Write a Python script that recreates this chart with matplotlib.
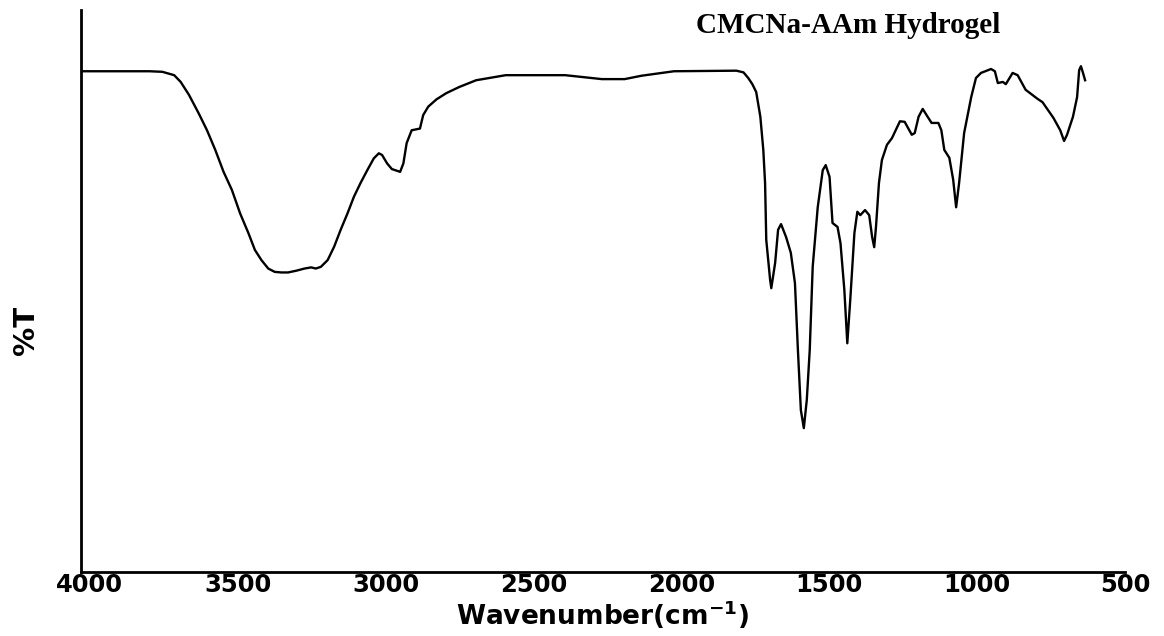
import numpy as np
import matplotlib
matplotlib.use("Agg")
import matplotlib.pyplot as plt

# FTIR spectrum of the hydrogel (wavenumber in cm-1, transmittance in %)
wavenumber = [4027, 3799, 3755, 3715, 3693, 3665, 3632, 3604, 3576, 3548,
              3520, 3492, 3464, 3442, 3420, 3397, 3375, 3353, 3330, 3303,
              3274, 3252, 3236, 3219, 3196, 3174, 3152, 3129, 3107, 3085,
              3062, 3040, 3023, 3012, 2995, 2979, 2951, 2940, 2929, 2912,
              2884, 2873, 2856, 2828, 2795, 2751, 2694, 2594, 2393, 2269,
              2192, 2135, 2025, 1814, 1790, 1774, 1760, 1747, 1733, 1723,
              1717, 1713, 1700, 1696, 1683, 1673, 1663, 1646, 1630, 1616,
              1606, 1596, 1586, 1576, 1566, 1556, 1539, 1522, 1512, 1499,
              1489, 1472, 1462, 1449, 1439, 1429, 1415, 1405, 1395, 1379,
              1365, 1355, 1348, 1342, 1332, 1322, 1305, 1288, 1261, 1245,
              1221, 1211, 1198, 1184, 1171, 1154, 1131, 1121, 1111, 1094,
              1081, 1071, 1061, 1044, 1020, 1004, 987, 953, 940, 930,
              913, 903, 880, 863, 836, 796, 779, 742, 719, 706,
              696, 676, 662, 655, 649, 642, 635]
transmittance = [89.1, 89.1, 89.0, 88.4, 87.2, 84.9, 81.6, 78.6, 75.1, 71.2,
                 68.0, 63.8, 60.3, 57.3, 55.5, 54.0, 53.4, 53.3, 53.3, 53.6,
                 54.0, 54.2, 54.0, 54.3, 55.5, 57.9, 60.9, 63.8, 66.8, 69.2,
                 71.5, 73.6, 74.5, 74.2, 72.7, 71.7, 71.2, 72.7, 76.3, 78.6,
                 78.9, 81.3, 82.8, 84.1, 85.2, 86.3, 87.5, 88.4, 88.4, 87.7,
                 87.7, 88.3, 89.1, 89.2, 88.9, 87.9, 86.8, 85.4, 81.0, 75.1,
                 69.2, 59.1, 52.0, 50.5, 55.0, 60.9, 61.9, 59.6, 56.8, 51.4,
                 39.5, 28.8, 25.6, 30.6, 39.5, 54.3, 64.9, 71.5, 72.4, 70.3,
                 62.1, 61.4, 58.5, 50.2, 40.7, 48.4, 60.3, 64.1, 63.5, 64.4,
                 63.5, 59.6, 57.8, 61.4, 69.2, 73.3, 76.0, 77.2, 80.2, 80.1,
                 77.8, 78.1, 81.0, 82.4, 81.3, 79.9, 79.9, 78.6, 75.1, 73.7,
                 69.8, 64.9, 69.2, 78.1, 84.5, 87.9, 88.8, 89.5, 89.1, 87.0,
                 87.2, 86.8, 88.8, 88.4, 85.8, 84.2, 83.6, 80.8, 78.6, 76.7,
                 77.8, 81.0, 84.5, 89.3, 90.0, 88.8, 87.5]
xticks = [4000, 3500, 3000, 2500, 2000, 1500, 1000, 500]

plt.rcParams["mathtext.default"] = "bf"

fig = plt.figure(figsize=(11.64, 6.36), dpi=100)
ax = fig.add_axes([0.0696, 0.1006, 0.8969, 0.8837])

ax.plot(wavenumber, transmittance, color="black", lw=1.7)

ax.set_xlim(4030, 535)
ax.set_ylim(0, 100)
ax.set_xticks(xticks)
ax.set_xticklabels([str(t) for t in xticks], fontsize=17.5, fontweight="bold",
                   family="DejaVu Sans")
ax.set_yticks([])
ax.tick_params(axis="x", length=0, pad=1)
for lab in ax.get_xticklabels():
    lab.set_clip_on(False)

for side in ["top", "right"]:
    ax.spines[side].set_visible(False)
for side in ["left", "bottom"]:
    ax.spines[side].set_linewidth(2)

ax.set_xlabel("Wavenumber(cm$^{-1}$)", fontsize=19, fontweight="bold",
              family="DejaVu Sans", labelpad=1)
ax.set_ylabel("%T", fontsize=21, fontweight="bold", family="DejaVu Sans")
ax.yaxis.set_label_coords(-0.039, 0.43)

ax.text(0.735, 0.997, "CMCNa-AAm Hydrogel", transform=ax.transAxes,
        ha="center", va="top", fontsize=21, fontweight="bold",
        family="Liberation Serif")

fig.savefig("out.png", dpi=100)
